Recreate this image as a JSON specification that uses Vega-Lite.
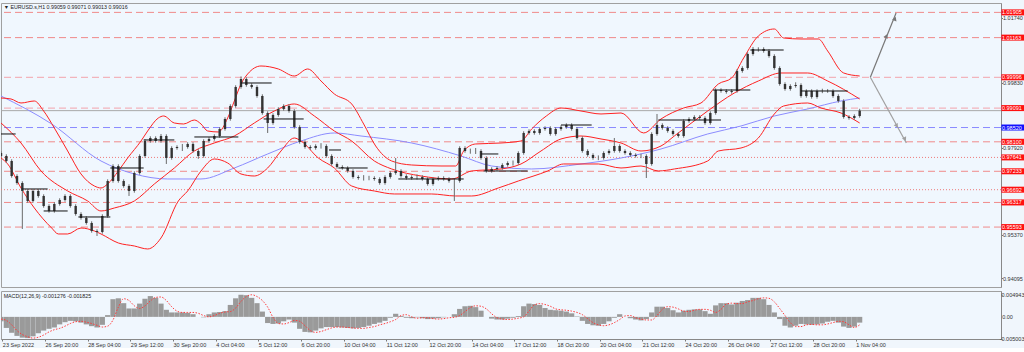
{
"$schema": "https://vega.github.io/schema/vega-lite/v6.json",
"background": "#f0f6fc",
"padding": {"left": 0, "top": 2, "right": 0, "bottom": 0},
"spacing": 2,
"config": {
  "view": {"stroke": "#a0a0a0", "fill": "#f0f7fe"},
  "font": "Liberation Sans",
  "axis": {"labelFont": "Liberation Sans", "labelFontSize": 5.5, "labelColor": "#333", "grid": false, "title": null, "domainColor": "#888", "tickColor": "#777", "tickSize": 2, "labelPadding": 1}
},
"datasets": {
  "bars": [
{"i":0,"o":0.97771,"h":0.97821,"l":0.97633,"c":0.97683,"m":-0.001,"s":-0.0005},
{"i":4,"o":0.97683,"h":0.97733,"l":0.97486,"c":0.97536,"m":-0.0025,"s":-0.0008},
{"i":8,"o":0.97536,"h":0.97586,"l":0.97045,"c":0.97095,"m":-0.0036,"s":-0.0018},
{"i":12,"o":0.97095,"h":0.97145,"l":0.96839,"c":0.96889,"m":-0.0043,"s":-0.0031},
{"i":16,"o":0.96889,"h":0.96939,"l":0.95537,"c":0.96654,"m":-0.0047,"s":-0.004},
{"i":20,"o":0.96654,"h":0.96704,"l":0.9631,"c":0.9636,"m":-0.0048,"s":-0.0045},
{"i":24,"o":0.9636,"h":0.96704,"l":0.9631,"c":0.96654,"m":-0.0044,"s":-0.0048},
{"i":28,"o":0.96654,"h":0.96704,"l":0.96457,"c":0.96507,"m":-0.0037,"s":-0.0046},
{"i":32,"o":0.96507,"h":0.96557,"l":0.96163,"c":0.96213,"m":-0.0031,"s":-0.0041},
{"i":36,"o":0.96213,"h":0.96263,"l":0.96016,"c":0.96066,"m":-0.0027,"s":-0.0034},
{"i":40,"o":0.96066,"h":0.96322,"l":0.96016,"c":0.96272,"m":-0.0024,"s":-0.0029},
{"i":44,"o":0.96272,"h":0.96439,"l":0.96222,"c":0.96389,"m":-0.0017,"s":-0.0026},
{"i":48,"o":0.96389,"h":0.96557,"l":0.96339,"c":0.96507,"m":-0.0012,"s":-0.0021},
{"i":52,"o":0.96507,"h":0.96557,"l":0.96163,"c":0.96213,"m":-0.0009,"s":-0.0015},
{"i":56,"o":0.96213,"h":0.96263,"l":0.95928,"c":0.95978,"m":-0.001,"s":-0.0011},
{"i":60,"o":0.95978,"h":0.96028,"l":0.9581,"c":0.9586,"m":-0.0013,"s":-0.001},
{"i":64,"o":0.9586,"h":0.9591,"l":0.95663,"c":0.95713,"m":-0.0017,"s":-0.0012},
{"i":68,"o":0.95713,"h":0.95763,"l":0.95428,"c":0.95478,"m":-0.0021,"s":-0.0015},
{"i":72,"o":0.95478,"h":0.95528,"l":0.95331,"c":0.95449,"m":-0.0024,"s":-0.0019},
{"i":76,"o":0.95449,"h":0.95969,"l":0.95399,"c":0.95919,"m":-0.0018,"s":-0.0023},
{"i":80,"o":0.95919,"h":0.96998,"l":0.95869,"c":0.96948,"m":0.0004,"s":-0.0021},
{"i":84,"o":0.96948,"h":0.97439,"l":0.96898,"c":0.97389,"m":0.004,"s":-0.0007},
{"i":88,"o":0.97389,"h":0.97439,"l":0.96898,"c":0.96948,"m":0.0042,"s":0.0022},
{"i":92,"o":0.96948,"h":0.96998,"l":0.96751,"c":0.96801,"m":0.0031,"s":0.0041},
{"i":96,"o":0.96801,"h":0.96851,"l":0.96507,"c":0.96654,"m":0.0019,"s":0.0037},
{"i":100,"o":0.96654,"h":0.97233,"l":0.96604,"c":0.97183,"m":0.0019,"s":0.0025},
{"i":104,"o":0.97183,"h":0.97733,"l":0.97133,"c":0.97683,"m":0.003,"s":0.0019},
{"i":108,"o":0.97683,"h":0.98174,"l":0.97633,"c":0.98124,"m":0.0041,"s":0.0025},
{"i":112,"o":0.98124,"h":0.98262,"l":0.98074,"c":0.98212,"m":0.0047,"s":0.0036},
{"i":116,"o":0.98212,"h":0.98262,"l":0.98074,"c":0.98124,"m":0.0043,"s":0.0044},
{"i":120,"o":0.98124,"h":0.9833,"l":0.98074,"c":0.98271,"m":0.003,"s":0.0045},
{"i":124,"o":0.98271,"h":0.98321,"l":0.97448,"c":0.97624,"m":0.0016,"s":0.0037},
{"i":128,"o":0.97624,"h":0.97968,"l":0.97574,"c":0.97918,"m":0.001,"s":0.0023},
{"i":132,"o":0.97918,"h":0.97998,"l":0.97868,"c":0.97948,"m":0.001,"s":0.0013},
{"i":136,"o":0.97948,"h":0.98036,"l":0.9783,"c":0.97948,"m":0.001,"s":0.001},
{"i":140,"o":0.97948,"h":0.98086,"l":0.97898,"c":0.98036,"m":0.0009,"s":0.001},
{"i":144,"o":0.98036,"h":0.98086,"l":0.9778,"c":0.9783,"m":0.0006,"s":0.001},
{"i":148,"o":0.9783,"h":0.9788,"l":0.976,"c":0.97683,"m":0.0,"s":0.0008},
{"i":152,"o":0.97683,"h":0.98174,"l":0.97633,"c":0.98124,"m":-0.0001,"s":0.0003},
{"i":156,"o":0.98124,"h":0.98233,"l":0.98074,"c":0.98183,"m":0.0006,"s":0.0},
{"i":160,"o":0.98183,"h":0.98321,"l":0.98133,"c":0.98271,"m":0.001,"s":0.0003},
{"i":164,"o":0.98271,"h":0.98527,"l":0.98221,"c":0.98477,"m":0.0011,"s":0.0008},
{"i":168,"o":0.98477,"h":0.98821,"l":0.98427,"c":0.98771,"m":0.0013,"s":0.0011},
{"i":172,"o":0.98771,"h":0.99203,"l":0.98721,"c":0.99153,"m":0.0027,"s":0.0012},
{"i":176,"o":0.99153,"h":0.99762,"l":0.99103,"c":0.99712,"m":0.0042,"s":0.002},
{"i":180,"o":0.99712,"h":1.0002,"l":0.99662,"c":0.99947,"m":0.005,"s":0.0035},
{"i":184,"o":0.99947,"h":0.99997,"l":0.9972,"c":0.9977,"m":0.0049,"s":0.0046},
{"i":188,"o":0.9977,"h":0.9982,"l":0.99662,"c":0.99712,"m":0.0043,"s":0.005},
{"i":192,"o":0.99712,"h":0.99762,"l":0.99397,"c":0.99447,"m":0.0031,"s":0.0046},
{"i":196,"o":0.99447,"h":0.99497,"l":0.98897,"c":0.98947,"m":0.0012,"s":0.0037},
{"i":200,"o":0.98947,"h":0.98997,"l":0.98359,"c":0.98653,"m":-0.0014,"s":0.0022},
{"i":204,"o":0.98653,"h":0.98938,"l":0.98603,"c":0.98888,"m":-0.0016,"s":-0.0001},
{"i":208,"o":0.98888,"h":0.99115,"l":0.98838,"c":0.99065,"m":-0.0015,"s":-0.0015},
{"i":212,"o":0.99065,"h":0.99203,"l":0.99015,"c":0.99153,"m":-0.001,"s":-0.0016},
{"i":216,"o":0.99153,"h":0.99203,"l":0.98956,"c":0.99006,"m":-0.0006,"s":-0.0013},
{"i":220,"o":0.99006,"h":0.99056,"l":0.98486,"c":0.98536,"m":-0.0013,"s":-0.0008},
{"i":224,"o":0.98536,"h":0.98586,"l":0.98045,"c":0.98095,"m":-0.0027,"s":-0.001},
{"i":228,"o":0.98095,"h":0.98145,"l":0.97898,"c":0.97948,"m":-0.0034,"s":-0.002},
{"i":232,"o":0.97948,"h":0.97998,"l":0.97868,"c":0.97918,"m":-0.0035,"s":-0.0031},
{"i":236,"o":0.97918,"h":0.98027,"l":0.97868,"c":0.97977,"m":-0.0031,"s":-0.0035},
{"i":240,"o":0.97977,"h":0.9806,"l":0.979,"c":0.97977,"m":-0.0026,"s":-0.0033},
{"i":244,"o":0.97977,"h":0.98027,"l":0.97633,"c":0.97683,"m":-0.0023,"s":-0.0029},
{"i":248,"o":0.97683,"h":0.97733,"l":0.97398,"c":0.97448,"m":-0.0023,"s":-0.0025},
{"i":252,"o":0.97448,"h":0.97498,"l":0.9731,"c":0.9736,"m":-0.0023,"s":-0.0023},
{"i":256,"o":0.9736,"h":0.9741,"l":0.9728,"c":0.9733,"m":-0.0024,"s":-0.0023},
{"i":260,"o":0.9733,"h":0.9738,"l":0.97192,"c":0.97242,"m":-0.0025,"s":-0.0024},
{"i":264,"o":0.97242,"h":0.97292,"l":0.97016,"c":0.97066,"m":-0.0026,"s":-0.0025},
{"i":268,"o":0.97066,"h":0.97116,"l":0.96986,"c":0.97036,"m":-0.0025,"s":-0.0026},
{"i":272,"o":0.97036,"h":0.9712,"l":0.9696,"c":0.97036,"m":-0.0023,"s":-0.0026},
{"i":276,"o":0.97036,"h":0.971,"l":0.9697,"c":0.97036,"m":-0.002,"s":-0.0024},
{"i":280,"o":0.97036,"h":0.97086,"l":0.96957,"c":0.97007,"m":-0.0016,"s":-0.0022},
{"i":284,"o":0.97007,"h":0.97057,"l":0.96839,"c":0.96889,"m":-0.0013,"s":-0.0018},
{"i":288,"o":0.96889,"h":0.97116,"l":0.96839,"c":0.97066,"m":-0.0009,"s":-0.0015},
{"i":292,"o":0.97066,"h":0.97233,"l":0.97016,"c":0.97183,"m":-0.0002,"s":-0.0011},
{"i":296,"o":0.97183,"h":0.97624,"l":0.97133,"c":0.97242,"m":0.0007,"s":-0.0006},
{"i":300,"o":0.97242,"h":0.97292,"l":0.97045,"c":0.97095,"m":0.0002,"s":0.0003},
{"i":304,"o":0.97095,"h":0.97145,"l":0.96986,"c":0.97036,"m":-0.0002,"s":0.0005},
{"i":308,"o":0.97036,"h":0.97116,"l":0.96986,"c":0.97066,"m":-0.0003,"s":0.0},
{"i":312,"o":0.97066,"h":0.9714,"l":0.9699,"c":0.97066,"m":-0.0001,"s":-0.0003},
{"i":316,"o":0.97066,"h":0.97116,"l":0.96957,"c":0.97007,"m":-0.0003,"s":-0.0002},
{"i":320,"o":0.97007,"h":0.97057,"l":0.9681,"c":0.9686,"m":-0.0005,"s":-0.0002},
{"i":324,"o":0.9686,"h":0.97057,"l":0.9681,"c":0.97007,"m":-0.0004,"s":-0.0004},
{"i":328,"o":0.97007,"h":0.97086,"l":0.96957,"c":0.97036,"m":-0.0003,"s":-0.0005},
{"i":332,"o":0.97036,"h":0.97086,"l":0.96957,"c":0.97007,"m":-0.0001,"s":-0.0004},
{"i":336,"o":0.97007,"h":0.97057,"l":0.96898,"c":0.96948,"m":0.0,"s":-0.0002},
{"i":340,"o":0.96948,"h":0.9703,"l":0.9636,"c":0.96948,"m":0.0006,"s":-0.0001},
{"i":344,"o":0.96948,"h":0.97968,"l":0.96898,"c":0.97918,"m":0.0018,"s":0.0003},
{"i":348,"o":0.97918,"h":0.97968,"l":0.9778,"c":0.9783,"m":0.0024,"s":0.0012},
{"i":352,"o":0.9783,"h":0.979,"l":0.9775,"c":0.9783,"m":0.0025,"s":0.0021},
{"i":356,"o":0.9783,"h":0.97918,"l":0.97742,"c":0.9783,"m":0.0022,"s":0.0025},
{"i":360,"o":0.9783,"h":0.9788,"l":0.97574,"c":0.97624,"m":0.0014,"s":0.0024},
{"i":364,"o":0.97624,"h":0.97674,"l":0.97192,"c":0.97242,"m":0.0,"s":0.0018},
{"i":368,"o":0.97242,"h":0.97351,"l":0.97192,"c":0.97301,"m":-0.0004,"s":0.0007},
{"i":372,"o":0.97301,"h":0.9738,"l":0.97251,"c":0.9733,"m":-0.0006,"s":-0.0002},
{"i":376,"o":0.9733,"h":0.97468,"l":0.9728,"c":0.97418,"m":-0.0006,"s":-0.0005},
{"i":380,"o":0.97418,"h":0.97527,"l":0.97368,"c":0.97477,"m":-0.0004,"s":-0.0006},
{"i":384,"o":0.97477,"h":0.9755,"l":0.974,"c":0.97477,"m":-0.0002,"s":-0.0005},
{"i":388,"o":0.97477,"h":0.97821,"l":0.97427,"c":0.97771,"m":0.0002,"s":-0.0003},
{"i":392,"o":0.97771,"h":0.98409,"l":0.97721,"c":0.98359,"m":0.0024,"s":0.0},
{"i":396,"o":0.98359,"h":0.98468,"l":0.98309,"c":0.98418,"m":0.003,"s":0.0013},
{"i":400,"o":0.98418,"h":0.98468,"l":0.98309,"c":0.98359,"m":0.0029,"s":0.0027},
{"i":404,"o":0.98359,"h":0.98527,"l":0.98309,"c":0.98477,"m":0.0027,"s":0.003},
{"i":408,"o":0.98477,"h":0.98556,"l":0.98427,"c":0.98506,"m":0.002,"s":0.0028},
{"i":412,"o":0.98506,"h":0.98556,"l":0.9828,"c":0.9833,"m":0.0016,"s":0.0024},
{"i":416,"o":0.9833,"h":0.98527,"l":0.9828,"c":0.98477,"m":0.0015,"s":0.0018},
{"i":420,"o":0.98477,"h":0.98586,"l":0.98427,"c":0.98536,"m":0.0014,"s":0.0016},
{"i":424,"o":0.98536,"h":0.98644,"l":0.98486,"c":0.98594,"m":0.0012,"s":0.0015},
{"i":428,"o":0.98594,"h":0.98644,"l":0.98427,"c":0.98477,"m":0.0008,"s":0.0013},
{"i":432,"o":0.98477,"h":0.98527,"l":0.98162,"c":0.98212,"m":0.0001,"s":0.001},
{"i":436,"o":0.98212,"h":0.98262,"l":0.9778,"c":0.9783,"m":-0.0009,"s":0.0005},
{"i":440,"o":0.9783,"h":0.9788,"l":0.97662,"c":0.97712,"m":-0.0016,"s":-0.0004},
{"i":444,"o":0.97712,"h":0.97762,"l":0.97574,"c":0.97624,"m":-0.0019,"s":-0.0013},
{"i":448,"o":0.97624,"h":0.977,"l":0.9756,"c":0.97624,"m":-0.002,"s":-0.0018},
{"i":452,"o":0.97624,"h":0.97821,"l":0.97574,"c":0.97771,"m":-0.0016,"s":-0.002},
{"i":456,"o":0.97771,"h":0.9788,"l":0.97721,"c":0.9783,"m":-0.001,"s":-0.0018},
{"i":460,"o":0.9783,"h":0.98212,"l":0.9778,"c":0.97977,"m":-0.0002,"s":-0.0013},
{"i":464,"o":0.97977,"h":0.98027,"l":0.9778,"c":0.9783,"m":0.0006,"s":-0.0006},
{"i":468,"o":0.9783,"h":0.9788,"l":0.97721,"c":0.97771,"m":0.0,"s":0.0002},
{"i":472,"o":0.97771,"h":0.97821,"l":0.97662,"c":0.97712,"m":-0.0003,"s":0.0003},
{"i":476,"o":0.97712,"h":0.97762,"l":0.97633,"c":0.97683,"m":-0.0006,"s":-0.0002},
{"i":480,"o":0.97683,"h":0.9775,"l":0.9762,"c":0.97683,"m":-0.0008,"s":-0.0005},
{"i":484,"o":0.97683,"h":0.97733,"l":0.97036,"c":0.97448,"m":-0.0005,"s":-0.0007},
{"i":488,"o":0.97448,"h":0.9838,"l":0.97398,"c":0.9833,"m":0.001,"s":-0.0007},
{"i":492,"o":0.9833,"h":0.98918,"l":0.9828,"c":0.98594,"m":0.0023,"s":0.0003},
{"i":496,"o":0.98594,"h":0.98644,"l":0.98456,"c":0.98506,"m":0.0023,"s":0.0017},
{"i":500,"o":0.98506,"h":0.98556,"l":0.98368,"c":0.98418,"m":0.002,"s":0.0023},
{"i":504,"o":0.98418,"h":0.98468,"l":0.9828,"c":0.9833,"m":0.0015,"s":0.0022},
{"i":508,"o":0.9833,"h":0.9838,"l":0.98221,"c":0.98271,"m":0.001,"s":0.0018},
{"i":512,"o":0.98271,"h":0.98762,"l":0.98221,"c":0.98712,"m":0.0014,"s":0.0013},
{"i":516,"o":0.98712,"h":0.98821,"l":0.98662,"c":0.98771,"m":0.0016,"s":0.0012},
{"i":520,"o":0.98771,"h":0.9888,"l":0.98721,"c":0.9883,"m":0.0017,"s":0.0015},
{"i":524,"o":0.9883,"h":0.9888,"l":0.9875,"c":0.988,"m":0.0017,"s":0.0017},
{"i":528,"o":0.988,"h":0.9885,"l":0.98603,"c":0.98653,"m":0.0013,"s":0.0017},
{"i":532,"o":0.98653,"h":0.98997,"l":0.98603,"c":0.98947,"m":0.0007,"s":0.0015},
{"i":536,"o":0.98947,"h":0.99673,"l":0.98897,"c":0.99623,"m":0.0026,"s":0.001},
{"i":540,"o":0.99623,"h":0.99673,"l":0.99544,"c":0.99594,"m":0.0031,"s":0.0017},
{"i":544,"o":0.99594,"h":0.99644,"l":0.99515,"c":0.99565,"m":0.0031,"s":0.0029},
{"i":548,"o":0.99565,"h":0.99644,"l":0.99515,"c":0.99594,"m":0.0028,"s":0.0031},
{"i":552,"o":0.99594,"h":1.00232,"l":0.99544,"c":1.00182,"m":0.0032,"s":0.003},
{"i":556,"o":1.00182,"h":1.0032,"l":1.00132,"c":1.0027,"m":0.0036,"s":0.003},
{"i":560,"o":1.0027,"h":1.00732,"l":1.0022,"c":1.00682,"m":0.0038,"s":0.0034},
{"i":564,"o":1.00682,"h":1.00888,"l":1.00632,"c":1.00829,"m":0.0043,"s":0.0037},
{"i":568,"o":1.00829,"h":1.00879,"l":1.0075,"c":1.00829,"m":0.0043,"s":0.0041},
{"i":572,"o":1.00829,"h":1.00879,"l":1.0072,"c":1.0077,"m":0.004,"s":0.0043},
{"i":576,"o":1.0077,"h":1.0082,"l":1.00573,"c":1.00623,"m":0.0027,"s":0.0042},
{"i":580,"o":1.00623,"h":1.00673,"l":1.0022,"c":1.0027,"m":0.001,"s":0.0034},
{"i":584,"o":1.0027,"h":1.0032,"l":0.9975,"c":0.998,"m":-0.0005,"s":0.0019},
{"i":588,"o":0.998,"h":0.9985,"l":0.99603,"c":0.99653,"m":-0.002,"s":0.0003},
{"i":592,"o":0.99653,"h":0.99791,"l":0.99603,"c":0.99741,"m":-0.0024,"s":-0.0013},
{"i":596,"o":0.99741,"h":0.9985,"l":0.99691,"c":0.9977,"m":-0.002,"s":-0.0022},
{"i":600,"o":0.9977,"h":0.9982,"l":0.99397,"c":0.99447,"m":-0.0016,"s":-0.0022},
{"i":604,"o":0.99447,"h":0.99644,"l":0.99397,"c":0.99594,"m":-0.0017,"s":-0.0018},
{"i":608,"o":0.99594,"h":0.99644,"l":0.99368,"c":0.99418,"m":-0.0018,"s":-0.0017},
{"i":612,"o":0.99418,"h":0.99644,"l":0.99368,"c":0.99594,"m":-0.0017,"s":-0.0018},
{"i":616,"o":0.99594,"h":0.9966,"l":0.9953,"c":0.99594,"m":-0.0015,"s":-0.0018},
{"i":620,"o":0.99594,"h":0.9965,"l":0.9954,"c":0.99594,"m":-0.0011,"s":-0.0016},
{"i":624,"o":0.99594,"h":0.99644,"l":0.99397,"c":0.99447,"m":-0.0009,"s":-0.0013},
{"i":628,"o":0.99447,"h":0.99497,"l":0.9925,"c":0.993,"m":-0.0013,"s":-0.001},
{"i":632,"o":0.993,"h":0.9935,"l":0.9878,"c":0.9883,"m":-0.0022,"s":-0.0011},
{"i":636,"o":0.9883,"h":0.9888,"l":0.9875,"c":0.988,"m":-0.0025,"s":-0.0018},
{"i":640,"o":0.988,"h":0.98909,"l":0.9875,"c":0.98859,"m":-0.0022,"s":-0.0024},
{"i":644,"o":0.98859,"h":0.99071,"l":0.98809,"c":0.99016,"m":-0.0013,"s":-0.0018}
  ],
  "bb": [
{"b":"u","i":0,"p":0.99388},{"b":"u","i":7.5,"p":0.99359},{"b":"u","i":15,"p":0.99241},{"b":"u","i":25,"p":0.993},{"b":"u","i":32,"p":0.99006},{"b":"u","i":40,"p":0.98506},{"b":"u","i":50,"p":0.9783},{"b":"u","i":60,"p":0.97154},{"b":"u","i":70,"p":0.96801},{"b":"u","i":75,"p":0.96742},{"b":"u","i":80,"p":0.9686},{"b":"u","i":88,"p":0.97242},{"b":"u","i":95,"p":0.97624},{"b":"u","i":105,"p":0.98124},{"b":"u","i":110,"p":0.98418},{"b":"u","i":118,"p":0.988},{"b":"u","i":122,"p":0.98859},{"b":"u","i":130,"p":0.98653},{"b":"u","i":137,"p":0.98624},{"b":"u","i":145,"p":0.98741},{"b":"u","i":150,"p":0.98624},{"b":"u","i":155,"p":0.98418},{"b":"u","i":163,"p":0.98389},{"b":"u","i":170,"p":0.988},{"b":"u","i":175,"p":0.993},{"b":"u","i":180,"p":0.998},{"b":"u","i":185,"p":1.00094},{"b":"u","i":195,"p":1.00329},{"b":"u","i":208,"p":1.00241},{"b":"u","i":220,"p":1.00035},{"b":"u","i":230,"p":1.00241},{"b":"u","i":240,"p":0.99888},{"b":"u","i":250,"p":0.99506},{"b":"u","i":263,"p":0.99212},{"b":"u","i":272,"p":0.98624},{"b":"u","i":281,"p":0.97977},{"b":"u","i":293,"p":0.97536},{"b":"u","i":308,"p":0.97418},{"b":"u","i":330,"p":0.97389},{"b":"u","i":341,"p":0.97389},{"b":"u","i":347,"p":0.9783},{"b":"u","i":356,"p":0.98036},{"b":"u","i":375,"p":0.98065},{"b":"u","i":390,"p":0.98124},{"b":"u","i":398,"p":0.98477},{"b":"u","i":409,"p":0.98859},{"b":"u","i":420,"p":0.99094},{"b":"u","i":435,"p":0.99006},{"b":"u","i":450,"p":0.98918},{"b":"u","i":465,"p":0.98947},{"b":"u","i":482,"p":0.9836},{"b":"u","i":495,"p":0.98771},{"b":"u","i":512,"p":0.99094},{"b":"u","i":525,"p":0.99241},{"b":"u","i":538,"p":0.998},{"b":"u","i":548,"p":0.99976},{"b":"u","i":557,"p":1.00564},{"b":"u","i":568,"p":1.01211},{"b":"u","i":580,"p":1.01417},{"b":"u","i":587,"p":1.01152},{"b":"u","i":600,"p":1.01123},{"b":"u","i":613,"p":1.01123},{"b":"u","i":620,"p":1.0077},{"b":"u","i":632,"p":1.00123},{"b":"u","i":644,"p":1.00035},
{"b":"m","i":0,"p":0.98653},{"b":"m","i":15,"p":0.98065},{"b":"m","i":30,"p":0.97242},{"b":"m","i":50,"p":0.96654},{"b":"m","i":65,"p":0.9636},{"b":"m","i":75,"p":0.96066},{"b":"m","i":85,"p":0.96154},{"b":"m","i":100,"p":0.9636},{"b":"m","i":115,"p":0.9686},{"b":"m","i":130,"p":0.9733},{"b":"m","i":145,"p":0.9783},{"b":"m","i":160,"p":0.98065},{"b":"m","i":175,"p":0.98271},{"b":"m","i":190,"p":0.98653},{"b":"m","i":205,"p":0.99006},{"b":"m","i":220,"p":0.99212},{"b":"m","i":235,"p":0.98859},{"b":"m","i":250,"p":0.98418},{"b":"m","i":263,"p":0.98124},{"b":"m","i":280,"p":0.97536},{"b":"m","i":293,"p":0.97301},{"b":"m","i":315,"p":0.97095},{"b":"m","i":338,"p":0.97007},{"b":"m","i":353,"p":0.97242},{"b":"m","i":375,"p":0.97301},{"b":"m","i":390,"p":0.97448},{"b":"m","i":405,"p":0.9783},{"b":"m","i":420,"p":0.98183},{"b":"m","i":435,"p":0.98271},{"b":"m","i":450,"p":0.98183},{"b":"m","i":465,"p":0.98065},{"b":"m","i":480,"p":0.9783},{"b":"m","i":495,"p":0.97977},{"b":"m","i":505,"p":0.98271},{"b":"m","i":530,"p":0.99006},{"b":"m","i":550,"p":0.99535},{"b":"m","i":568,"p":0.99888},{"b":"m","i":585,"p":1.00123},{"b":"m","i":605,"p":1.00123},{"b":"m","i":620,"p":0.99888},{"b":"m","i":644,"p":0.99359},
{"b":"l","i":0,"p":0.97624},{"b":"l","i":5,"p":0.97448},{"b":"l","i":15,"p":0.96742},{"b":"l","i":25,"p":0.96154},{"b":"l","i":38,"p":0.95566},{"b":"l","i":43,"p":0.9539},{"b":"l","i":50,"p":0.9539},{"b":"l","i":60,"p":0.95566},{"b":"l","i":70,"p":0.95478},{"b":"l","i":75,"p":0.9539},{"b":"l","i":88,"p":0.95125},{"b":"l","i":100,"p":0.95037},{"b":"l","i":110,"p":0.94949},{"b":"l","i":120,"p":0.95272},{"b":"l","i":133,"p":0.9636},{"b":"l","i":140,"p":0.96654},{"b":"l","i":150,"p":0.97242},{"b":"l","i":160,"p":0.97595},{"b":"l","i":170,"p":0.97477},{"b":"l","i":180,"p":0.97154},{"b":"l","i":190,"p":0.97095},{"b":"l","i":200,"p":0.9733},{"b":"l","i":210,"p":0.9783},{"b":"l","i":220,"p":0.98212},{"b":"l","i":225,"p":0.98124},{"b":"l","i":238,"p":0.97624},{"b":"l","i":250,"p":0.9733},{"b":"l","i":263,"p":0.96801},{"b":"l","i":280,"p":0.96654},{"b":"l","i":295,"p":0.96566},{"b":"l","i":323,"p":0.96566},{"b":"l","i":341,"p":0.96507},{"b":"l","i":353,"p":0.96507},{"b":"l","i":373,"p":0.96742},{"b":"l","i":388,"p":0.96948},{"b":"l","i":410,"p":0.97242},{"b":"l","i":422,"p":0.97448},{"b":"l","i":448,"p":0.97448},{"b":"l","i":465,"p":0.9733},{"b":"l","i":480,"p":0.97389},{"b":"l","i":493,"p":0.97242},{"b":"l","i":505,"p":0.97301},{"b":"l","i":530,"p":0.97536},{"b":"l","i":538,"p":0.9783},{"b":"l","i":555,"p":0.97918},{"b":"l","i":568,"p":0.98212},{"b":"l","i":580,"p":0.98918},{"b":"l","i":587,"p":0.99153},{"b":"l","i":605,"p":0.99241},{"b":"l","i":615,"p":0.99094},{"b":"l","i":630,"p":0.98947},{"b":"l","i":644,"p":0.98653}
  ],
  "ma": [
{"i":0,"p":0.99447},{"i":38,"p":0.98624},{"i":75,"p":0.97536},{"i":100,"p":0.97154},{"i":125,"p":0.97007},{"i":150,"p":0.97007},{"i":175,"p":0.9733},{"i":200,"p":0.97742},{"i":225,"p":0.98124},{"i":250,"p":0.98359},{"i":270,"p":0.98271},{"i":308,"p":0.98065},{"i":345,"p":0.97683},{"i":368,"p":0.97389},{"i":398,"p":0.97301},{"i":435,"p":0.97448},{"i":465,"p":0.97624},{"i":495,"p":0.97889},{"i":530,"p":0.9833},{"i":555,"p":0.98565},{"i":580,"p":0.98859},{"i":605,"p":0.99065},{"i":630,"p":0.993},{"i":644,"p":0.99388}
  ],
  "seg": [
{"i":0,"i2":11,"p":0.9833},{"i":16,"i2":35,"p":0.96713},{"i":32,"i2":50,"p":0.96066},{"i":58,"i2":82,"p":0.9589},{"i":82,"i2":107,"p":0.9733},{"i":107,"i2":130,"p":0.98154},{"i":145,"i2":178,"p":0.98242},{"i":180,"i2":203,"p":0.99829},{"i":197,"i2":227,"p":0.98771},{"i":246,"i2":255,"p":0.97859},{"i":253,"i2":275,"p":0.9733},{"i":298,"i2":347,"p":0.97007},{"i":360,"i2":373,"p":0.97742},{"i":362,"i2":395,"p":0.97242},{"i":420,"i2":443,"p":0.98594},{"i":493,"i2":540,"p":0.98741},{"i":534,"i2":562,"p":0.99623},{"i":562,"i2":587,"p":1.00799},{"i":600,"i2":635,"p":0.99594}
  ],
  "lv": [
{"p":1.01905,"k":"dash"},{"p":1.01163,"k":"dash"},{"p":0.99996,"k":"pink"},{"p":0.99091,"k":"pink"},{"p":0.9852,"k":"blue"},{"p":0.981,"k":"dash"},{"p":0.97641,"k":"dot"},{"p":0.97233,"k":"dash"},{"p":0.96692,"k":"dot"},{"p":0.96317,"k":"dash"},{"p":0.95593,"k":"dash"}
  ],
  "arr": [
{"g":"up","i":652,"p":0.99996},{"g":"up","i":671.3,"p":1.01887},{"g":"dn","i":652,"p":0.99996},{"g":"dn","i":679,"p":0.98065}
  ],
  "head": [
{"g":"up","i":670.5,"p":1.0172},{"g":"up","i":664,"p":1.0121},{"g":"dn","i":678,"p":0.9818},{"g":"dn","i":671.8,"p":0.98565}
  ],
  "macdlab": [
{"v":0.004943,"t":"0.004943","long":true},{"v":0,"t":"0.00","long":false},{"v":-0.005003,"t":"-0.005003","long":true}
  ]
},
"vconcat": [
{
  "width": 1000, "height": 284,
  "layer": [
    {"data": {"name": "lv"}, "transform": [{"filter": "datum.k=='dash'"}],
     "mark": {"type": "rule", "color": "#f08a8a", "strokeWidth": 1, "strokeDash": [7, 4], "clip": true},
     "encoding": {"y": {"field": "p", "type": "quantitative", "title": null,
        "scale": {"domain": [0.93831, 1.02181], "nice": false, "zero": false},
        "axis": {"orient": "right", "values": [0.94095,0.94735,0.9537,0.96005,0.9792,0.99185,0.9983,1.0047,1.0174], "format": ".5f", "labelAlign": "left", "labelBaseline": "middle", "tickSize": 1.5, "labelPadding": 0, "domainColor": "#888"}}}},
    {"data": {"name": "lv"}, "transform": [{"filter": "datum.k=='pink'"}],
     "mark": {"type": "rule", "color": "#f2b4bc", "strokeWidth": 1.2, "strokeDash": [7, 4], "clip": true},
     "encoding": {"y": {"field": "p", "type": "quantitative", "title": null}}},
    {"data": {"name": "lv"}, "transform": [{"filter": "datum.k=='dot'"}],
     "mark": {"type": "rule", "color": "#ee7a7a", "strokeWidth": 1, "strokeDash": [1, 2], "clip": true},
     "encoding": {"y": {"field": "p", "type": "quantitative", "title": null}}},
    {"data": {"name": "lv"}, "transform": [{"filter": "datum.k=='blue'"}],
     "mark": {"type": "rule", "color": "#8a8aff", "strokeWidth": 1, "strokeDash": [7, 4], "clip": true},
     "encoding": {"y": {"field": "p", "type": "quantitative", "title": null}}},
    {"data": {"values": [{"p": 0.99016}]},
     "mark": {"type": "rule", "color": "#a8a8a8", "strokeWidth": 1, "clip": true},
     "encoding": {"y": {"field": "p", "type": "quantitative", "title": null}}},
    {"data": {"name": "ma"},
     "mark": {"type": "line", "color": "#8c8cff", "strokeWidth": 1, "interpolate": "monotone", "clip": true},
     "encoding": {"x": {"field": "i", "type": "quantitative", "axis": null, "scale": {"domain": [0, 750], "nice": false, "zero": false}},
                  "y": {"field": "p", "type": "quantitative", "title": null}}},
    {"data": {"name": "bb"},
     "mark": {"type": "line", "color": "#ff2222", "strokeWidth": 1, "interpolate": "monotone", "clip": true},
     "encoding": {"x": {"field": "i", "type": "quantitative", "axis": null},
                  "y": {"field": "p", "type": "quantitative", "title": null},
                  "detail": {"field": "b"}}},
    {"data": {"name": "bars"},
     "mark": {"type": "rule", "color": "#6a6a6a", "strokeWidth": 1, "clip": true},
     "encoding": {"x": {"field": "i", "type": "quantitative", "axis": null},
                  "y": {"field": "l", "type": "quantitative", "title": null},
                  "y2": {"field": "h"}}},
    {"data": {"name": "bars"},
     "mark": {"type": "rule", "color": "#333333", "strokeWidth": 2.4, "strokeCap": "butt", "clip": true},
     "encoding": {"x": {"field": "i", "type": "quantitative", "axis": null},
                  "y": {"field": "o", "type": "quantitative", "title": null},
                  "y2": {"field": "c"}}},
    {"data": {"name": "seg"},
     "mark": {"type": "rule", "color": "#111111", "strokeWidth": 1, "clip": true},
     "encoding": {"x": {"field": "i", "type": "quantitative", "axis": null},
                  "x2": {"field": "i2"},
                  "y": {"field": "p", "type": "quantitative", "title": null}}},
    {"data": {"name": "arr"}, "transform": [{"filter": "datum.g=='up'"}],
     "mark": {"type": "line", "color": "#777777", "strokeWidth": 1.2},
     "encoding": {"x": {"field": "i", "type": "quantitative", "axis": null},
                  "y": {"field": "p", "type": "quantitative", "title": null}}},
    {"data": {"name": "arr"}, "transform": [{"filter": "datum.g=='dn'"}],
     "mark": {"type": "line", "color": "#a0a0a0", "strokeWidth": 1.2},
     "encoding": {"x": {"field": "i", "type": "quantitative", "axis": null},
                  "y": {"field": "p", "type": "quantitative", "title": null}}},
    {"data": {"name": "head"}, "transform": [{"filter": "datum.g=='up'"}],
     "mark": {"type": "point", "shape": "triangle-up", "filled": true, "color": "#777777", "opacity": 1, "size": 22, "angle": 21},
     "encoding": {"x": {"field": "i", "type": "quantitative", "axis": null},
                  "y": {"field": "p", "type": "quantitative", "title": null}}},
    {"data": {"name": "head"}, "transform": [{"filter": "datum.g=='dn'"}],
     "mark": {"type": "point", "shape": "triangle-up", "filled": true, "color": "#a0a0a0", "opacity": 1, "size": 22, "angle": 152},
     "encoding": {"x": {"field": "i", "type": "quantitative", "axis": null},
                  "y": {"field": "p", "type": "quantitative", "title": null}}},
    {"data": {"name": "lv"},
     "mark": {"type": "rule", "strokeWidth": 6, "strokeCap": "butt"},
     "encoding": {"x": {"datum": 750.3}, "x2": {"datum": 767.5},
                  "y": {"field": "p", "type": "quantitative", "title": null},
                  "color": {"condition": {"test": "datum.k=='blue'", "value": "#1010ff"}, "value": "#ff1010"}}},
    {"data": {"name": "lv"},
     "mark": {"type": "text", "color": "#ffffff", "fontSize": 5.5, "align": "left", "baseline": "middle", "font": "Liberation Sans"},
     "encoding": {"x": {"datum": 750.7},
                  "y": {"field": "p", "type": "quantitative", "title": null},
                  "text": {"field": "p", "format": ".5f"}}},
    {"data": {"values": [{"t": "▼ EURUSD.s,H1  0.99059 0.99071 0.99013 0.99016"}]},
     "mark": {"type": "text", "color": "#222222", "fontSize": 5.3, "align": "left", "baseline": "middle", "font": "Liberation Sans"},
     "encoding": {"x": {"datum": 2}, "y": {"datum": 1.0207}, "text": {"field": "t"}}}
  ]
},
{
  "width": 1000, "height": 48,
  "layer": [
    {"data": {"name": "bars"},
     "mark": {"type": "rule", "color": "#9a9a9a", "strokeWidth": 5.2, "strokeCap": "butt", "clip": true},
     "encoding": {"x": {"field": "i", "type": "quantitative", "title": null,
        "scale": {"domain": [0, 750], "nice": false, "zero": false},
        "axis": {"values": [1,33,65,97,129,161,193,225,257,289,321,353,385,417,449,481,513,545,577,609,641],
                 "labelExpr": "['23 Sep 2022','26 Sep 20:00','28 Sep 04:00','29 Sep 12:00','30 Sep 20:00','4 Oct 04:00','5 Oct 12:00','6 Oct 20:00','10 Oct 04:00','11 Oct 12:00','12 Oct 20:00','14 Oct 04:00','17 Oct 12:00','18 Oct 20:00','20 Oct 04:00','21 Oct 12:00','24 Oct 20:00','26 Oct 04:00','27 Oct 12:00','28 Oct 20:00','1 Nov 04:00'][floor((datum.value-1)/32)]",
                 "labelAlign": "left", "labelOverlap": false, "labelFlush": false, "tickSize": 2, "labelPadding": 1}},
        "y": {"field": "m", "type": "quantitative", "title": null,
          "scale": {"domain": [-0.005003, 0.00585], "nice": false, "zero": false},
          "axis": {"orient": "right", "values": [0.004943, 0, -0.005003], "labels": false, "tickSize": 1}},
        "y2": {"datum": 0}}},
    {"data": {"name": "bars"},
     "mark": {"type": "line", "color": "#ff3b3b", "strokeWidth": 1, "strokeDash": [1.5, 1.5], "interpolate": "monotone", "clip": true},
     "encoding": {"x": {"field": "i", "type": "quantitative"},
                  "y": {"field": "s", "type": "quantitative", "title": null}}},
    {"data": {"name": "macdlab"}, "transform": [{"filter": "datum.long"}],
     "mark": {"type": "text", "color": "#333333", "fontSize": 5.5, "align": "right", "baseline": "middle", "font": "Liberation Sans"},
     "encoding": {"x": {"datum": 767.6}, "y": {"field": "v", "type": "quantitative", "title": null}, "text": {"field": "t"}}},
    {"data": {"name": "macdlab"}, "transform": [{"filter": "!datum.long"}],
     "mark": {"type": "text", "color": "#333333", "fontSize": 5.5, "align": "left", "baseline": "middle", "font": "Liberation Sans"},
     "encoding": {"x": {"datum": 750.9}, "y": {"field": "v", "type": "quantitative", "title": null}, "text": {"field": "t"}}},
    {"data": {"values": [{"t": "MACD(12,26,9) -0.001276 -0.001825"}]},
     "mark": {"type": "text", "color": "#222222", "fontSize": 5.3, "align": "left", "baseline": "middle", "font": "Liberation Sans"},
     "encoding": {"x": {"datum": 2}, "y": {"datum": 0.0048}, "text": {"field": "t"}}}
  ]
}
]
}
